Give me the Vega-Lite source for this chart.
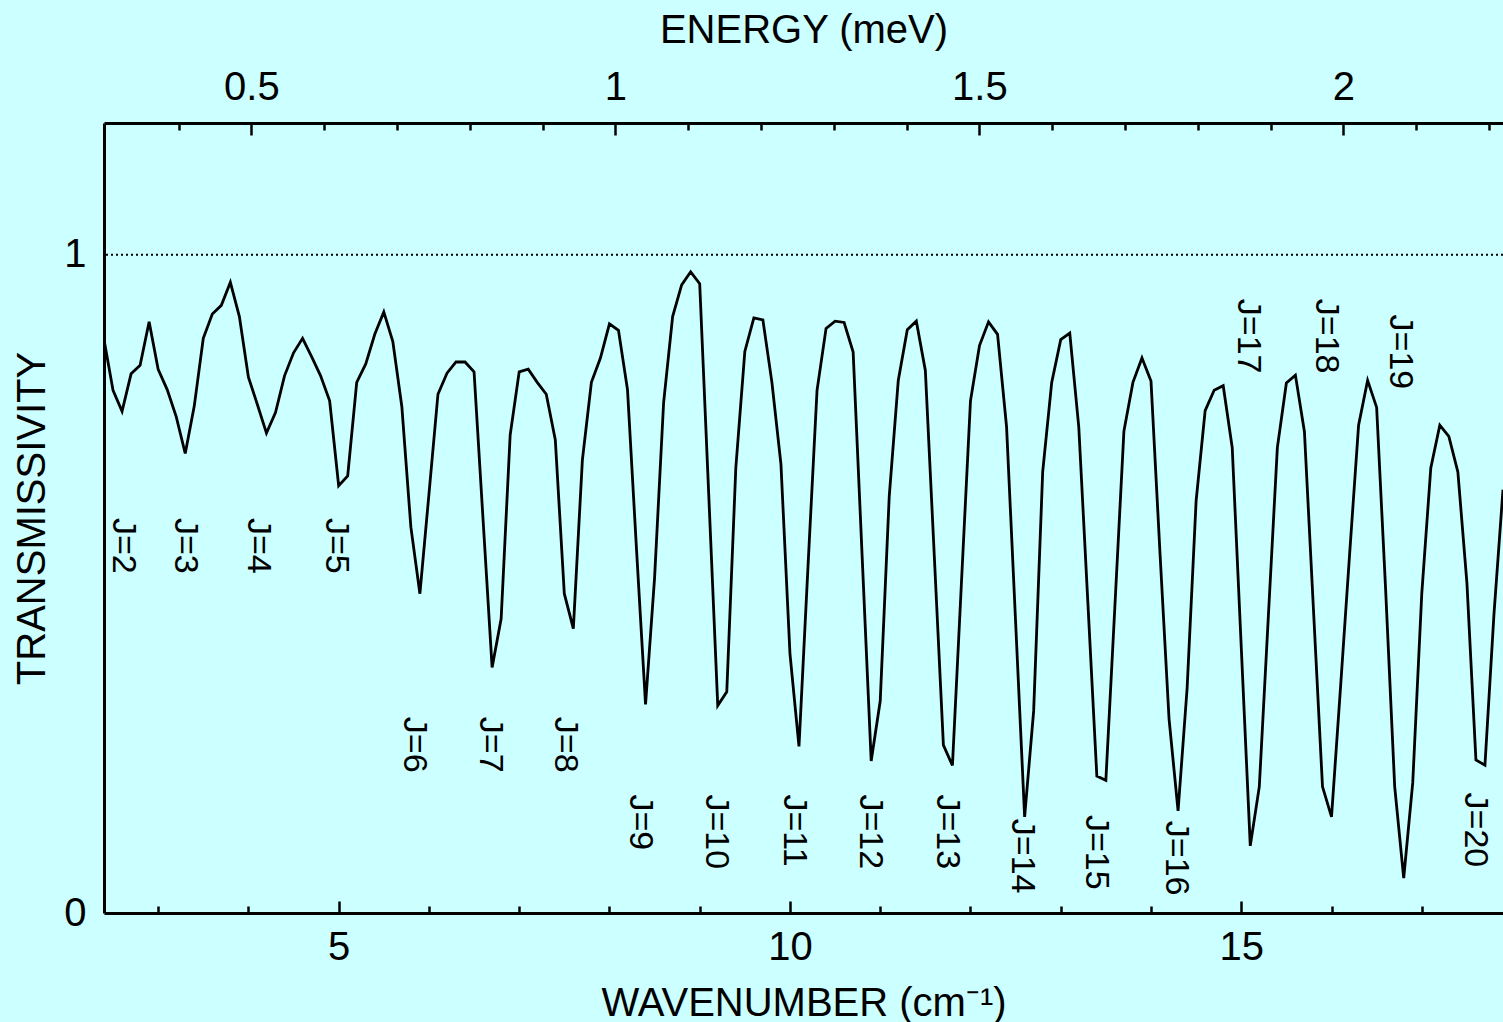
{
  "$schema": "https://vega.github.io/schema/vega-lite/v6.json",
  "width": 1399,
  "height": 790,
  "autosize": {"type": "none"},
  "padding": {"left": 104, "top": 123, "right": 0, "bottom": 109},
  "background": "#CCFFFF",
  "config": {
    "view": {"stroke": null},
    "font": "Liberation Sans",
    "axis": {"grid": false, "labelOverlap": false, "labelFlush": false, "domainColor": "black", "domainWidth": 3, "tickColor": "black", "tickWidth": 2.5, "labelColor": "black", "titleColor": "black", "labelFontSize": 40, "titleFontSize": 40, "titleFontWeight": "normal", "labelFont": "Liberation Sans", "titleFont": "Liberation Sans"}
  },
  "datasets": {
    "curve": [
      {"w": 2.4, "t": 0.871}, {"w": 2.5, "t": 0.794}, {"w": 2.6, "t": 0.762}, {"w": 2.7, "t": 0.819}, {"w": 2.8, "t": 0.832},
      {"w": 2.9, "t": 0.898}, {"w": 3.0, "t": 0.826}, {"w": 3.1, "t": 0.795}, {"w": 3.2, "t": 0.754}, {"w": 3.3, "t": 0.698},
      {"w": 3.4, "t": 0.770}, {"w": 3.5, "t": 0.873}, {"w": 3.6, "t": 0.910}, {"w": 3.7, "t": 0.923}, {"w": 3.8, "t": 0.958},
      {"w": 3.9, "t": 0.906}, {"w": 4.0, "t": 0.814}, {"w": 4.1, "t": 0.772}, {"w": 4.2, "t": 0.729}, {"w": 4.3, "t": 0.760},
      {"w": 4.4, "t": 0.816}, {"w": 4.5, "t": 0.851}, {"w": 4.6, "t": 0.873}, {"w": 4.7, "t": 0.845}, {"w": 4.8, "t": 0.816},
      {"w": 4.9, "t": 0.778}, {"w": 5.0, "t": 0.649}, {"w": 5.1, "t": 0.664}, {"w": 5.2, "t": 0.806}, {"w": 5.3, "t": 0.834},
      {"w": 5.4, "t": 0.879}, {"w": 5.5, "t": 0.913}, {"w": 5.6, "t": 0.868}, {"w": 5.7, "t": 0.769}, {"w": 5.8, "t": 0.586},
      {"w": 5.9, "t": 0.485}, {"w": 6.0, "t": 0.636}, {"w": 6.1, "t": 0.788}, {"w": 6.2, "t": 0.820}, {"w": 6.3, "t": 0.837},
      {"w": 6.4, "t": 0.837}, {"w": 6.5, "t": 0.822}, {"w": 6.6, "t": 0.597}, {"w": 6.7, "t": 0.373}, {"w": 6.8, "t": 0.447},
      {"w": 6.9, "t": 0.726}, {"w": 7.0, "t": 0.822}, {"w": 7.1, "t": 0.826}, {"w": 7.2, "t": 0.806}, {"w": 7.3, "t": 0.788},
      {"w": 7.4, "t": 0.719}, {"w": 7.5, "t": 0.485}, {"w": 7.6, "t": 0.432}, {"w": 7.7, "t": 0.688}, {"w": 7.8, "t": 0.806},
      {"w": 7.9, "t": 0.843}, {"w": 8.0, "t": 0.895}, {"w": 8.1, "t": 0.885}, {"w": 8.2, "t": 0.795}, {"w": 8.3, "t": 0.552},
      {"w": 8.4, "t": 0.317}, {"w": 8.5, "t": 0.509}, {"w": 8.6, "t": 0.775}, {"w": 8.7, "t": 0.906}, {"w": 8.8, "t": 0.954},
      {"w": 8.9, "t": 0.974}, {"w": 9.0, "t": 0.956}, {"w": 9.1, "t": 0.636}, {"w": 9.2, "t": 0.315}, {"w": 9.3, "t": 0.336},
      {"w": 9.4, "t": 0.676}, {"w": 9.5, "t": 0.853}, {"w": 9.6, "t": 0.904}, {"w": 9.7, "t": 0.901}, {"w": 9.8, "t": 0.806},
      {"w": 9.9, "t": 0.682}, {"w": 10.0, "t": 0.394}, {"w": 10.1, "t": 0.253}, {"w": 10.2, "t": 0.527}, {"w": 10.3, "t": 0.794},
      {"w": 10.4, "t": 0.888}, {"w": 10.5, "t": 0.899}, {"w": 10.6, "t": 0.897}, {"w": 10.7, "t": 0.852}, {"w": 10.8, "t": 0.541},
      {"w": 10.9, "t": 0.231}, {"w": 11.0, "t": 0.322}, {"w": 11.1, "t": 0.633}, {"w": 11.2, "t": 0.809}, {"w": 11.3, "t": 0.886},
      {"w": 11.4, "t": 0.899}, {"w": 11.5, "t": 0.824}, {"w": 11.6, "t": 0.540}, {"w": 11.7, "t": 0.255}, {"w": 11.8, "t": 0.224},
      {"w": 11.9, "t": 0.502}, {"w": 12.0, "t": 0.778}, {"w": 12.1, "t": 0.862}, {"w": 12.2, "t": 0.898}, {"w": 12.3, "t": 0.879},
      {"w": 12.4, "t": 0.738}, {"w": 12.5, "t": 0.442}, {"w": 12.6, "t": 0.146}, {"w": 12.7, "t": 0.307}, {"w": 12.8, "t": 0.670},
      {"w": 12.9, "t": 0.806}, {"w": 13.0, "t": 0.871}, {"w": 13.1, "t": 0.881}, {"w": 13.2, "t": 0.738}, {"w": 13.3, "t": 0.473},
      {"w": 13.4, "t": 0.208}, {"w": 13.5, "t": 0.2015}, {"w": 13.6, "t": 0.466}, {"w": 13.7, "t": 0.732}, {"w": 13.8, "t": 0.806},
      {"w": 13.9, "t": 0.843}, {"w": 14.0, "t": 0.808}, {"w": 14.1, "t": 0.546}, {"w": 14.2, "t": 0.295}, {"w": 14.3, "t": 0.155},
      {"w": 14.4, "t": 0.341}, {"w": 14.5, "t": 0.626}, {"w": 14.6, "t": 0.763}, {"w": 14.7, "t": 0.794}, {"w": 14.8, "t": 0.801},
      {"w": 14.9, "t": 0.707}, {"w": 15.0, "t": 0.404}, {"w": 15.1, "t": 0.102}, {"w": 15.2, "t": 0.192}, {"w": 15.3, "t": 0.450},
      {"w": 15.4, "t": 0.707}, {"w": 15.5, "t": 0.805}, {"w": 15.6, "t": 0.817}, {"w": 15.7, "t": 0.731}, {"w": 15.8, "t": 0.461},
      {"w": 15.9, "t": 0.192}, {"w": 16.0, "t": 0.146}, {"w": 16.1, "t": 0.343}, {"w": 16.2, "t": 0.544}, {"w": 16.3, "t": 0.741},
      {"w": 16.4, "t": 0.809}, {"w": 16.5, "t": 0.768}, {"w": 16.6, "t": 0.490}, {"w": 16.7, "t": 0.192}, {"w": 16.8, "t": 0.053},
      {"w": 16.9, "t": 0.198}, {"w": 17.0, "t": 0.485}, {"w": 17.1, "t": 0.676}, {"w": 17.2, "t": 0.741}, {"w": 17.3, "t": 0.724},
      {"w": 17.4, "t": 0.670}, {"w": 17.5, "t": 0.502}, {"w": 17.6, "t": 0.2325}, {"w": 17.7, "t": 0.2245}, {"w": 17.8, "t": 0.454},
      {"w": 17.9, "t": 0.643}
    ],
    "labels": [
      {"J": "J=2", "w": 2.61, "t": 0.600},
      {"J": "J=3", "w": 3.30, "t": 0.600},
      {"J": "J=4", "w": 4.11, "t": 0.600},
      {"J": "J=5", "w": 4.97, "t": 0.600},
      {"J": "J=6", "w": 5.83, "t": 0.298},
      {"J": "J=7", "w": 6.68, "t": 0.298},
      {"J": "J=8", "w": 7.51, "t": 0.298},
      {"J": "J=9", "w": 8.34, "t": 0.180},
      {"J": "J=10", "w": 9.18, "t": 0.180},
      {"J": "J=11", "w": 10.04, "t": 0.180},
      {"J": "J=12", "w": 10.89, "t": 0.180},
      {"J": "J=13", "w": 11.74, "t": 0.180},
      {"J": "J=14", "w": 12.57, "t": 0.143},
      {"J": "J=15", "w": 13.39, "t": 0.149},
      {"J": "J=16", "w": 14.28, "t": 0.140},
      {"J": "J=17", "w": 15.08, "t": 0.933},
      {"J": "J=18", "w": 15.94, "t": 0.933},
      {"J": "J=19", "w": 16.76, "t": 0.909},
      {"J": "J=20", "w": 17.59, "t": 0.183}
    ]
  },
  "layer": [
    {
      "data": {"name": "curve"},
      "mark": {"type": "line", "color": "black", "strokeWidth": 2.8, "clip": true},
      "encoding": {
        "x": {
          "field": "w", "type": "quantitative",
          "scale": {"domain": [2.4, 17.9], "nice": false, "zero": false},
          "axis": {
            "orient": "bottom",
            "title": "WAVENUMBER (cm⁻¹)",
            "values": [3, 4, 5, 6, 7, 8, 9, 10, 11, 12, 13, 14, 15, 16, 17],
            "labelExpr": "datum.value % 5 === 0 ? datum.label : ''",
            "tickSize": {"condition": {"test": "datum.value % 5 === 0", "value": -12}, "value": -7},
            "labelPadding": 26,
            "titleY": 102,
            "titleBaseline": "alphabetic"
          }
        },
        "y": {
          "field": "t", "type": "quantitative",
          "scale": {"domain": [0, 1.2], "nice": false, "zero": false},
          "axis": {"title": "TRANSMISSIVITY", "values": [0, 1], "labelExpr": "format(datum.value, '~g')", "ticks": false, "labelPadding": 18, "titleX": -72, "titleY": 395, "titleAngle": -90, "titleBaseline": "middle", "titleAlign": "center"}
        }
      }
    },
    {
      "data": {"values": [{}]},
      "mark": {"type": "rule", "color": "black", "strokeWidth": 2, "strokeDash": [2, 3]},
      "encoding": {
        "y": {"datum": 1, "type": "quantitative", "scale": {"domain": [0, 1.2], "nice": false, "zero": false}}
      }
    },
    {
      "data": {"name": "labels"},
      "mark": {"type": "text", "angle": 90, "align": "left", "baseline": "middle", "fontSize": 34, "font": "Liberation Sans", "color": "black"},
      "encoding": {
        "x": {
          "field": "w", "type": "quantitative",
          "scale": {"domain": [2.4, 17.9], "nice": false, "zero": false},
          "axis": {
            "orient": "top",
            "title": "ENERGY (meV)",
            "values": [3.2262, 4.03275, 4.8393, 5.64585, 6.4524, 7.25895, 8.0655, 8.87205, 9.6786, 10.48515, 11.2917, 12.09825, 12.9048, 13.71135, 14.5179, 15.32445, 16.131, 16.93755, 17.7441],
            "labelExpr": "abs(datum.value / 8.0655 * 2 - round(datum.value / 8.0655 * 2)) < 0.01 ? format(datum.value / 8.0655, '~g') : ''",
            "tickSize": {"condition": {"test": "abs(datum.value / 8.0655 * 2 - round(datum.value / 8.0655 * 2)) < 0.01", "value": -12}, "value": -7},
            "labelPadding": 28,
            "titleY": -81,
            "titleBaseline": "alphabetic"
          }
        },
        "y": {
          "field": "t", "type": "quantitative",
          "scale": {"domain": [0, 1.2], "nice": false, "zero": false},
          "axis": {"title": "TRANSMISSIVITY", "values": [0, 1], "labelExpr": "format(datum.value, '~g')", "ticks": false, "labelPadding": 18, "titleX": -72, "titleY": 395, "titleAngle": -90, "titleBaseline": "middle", "titleAlign": "center"}
        },
        "text": {"field": "J", "type": "nominal"}
      }
    }
  ],
  "resolve": {"axis": {"x": "independent"}}
}
